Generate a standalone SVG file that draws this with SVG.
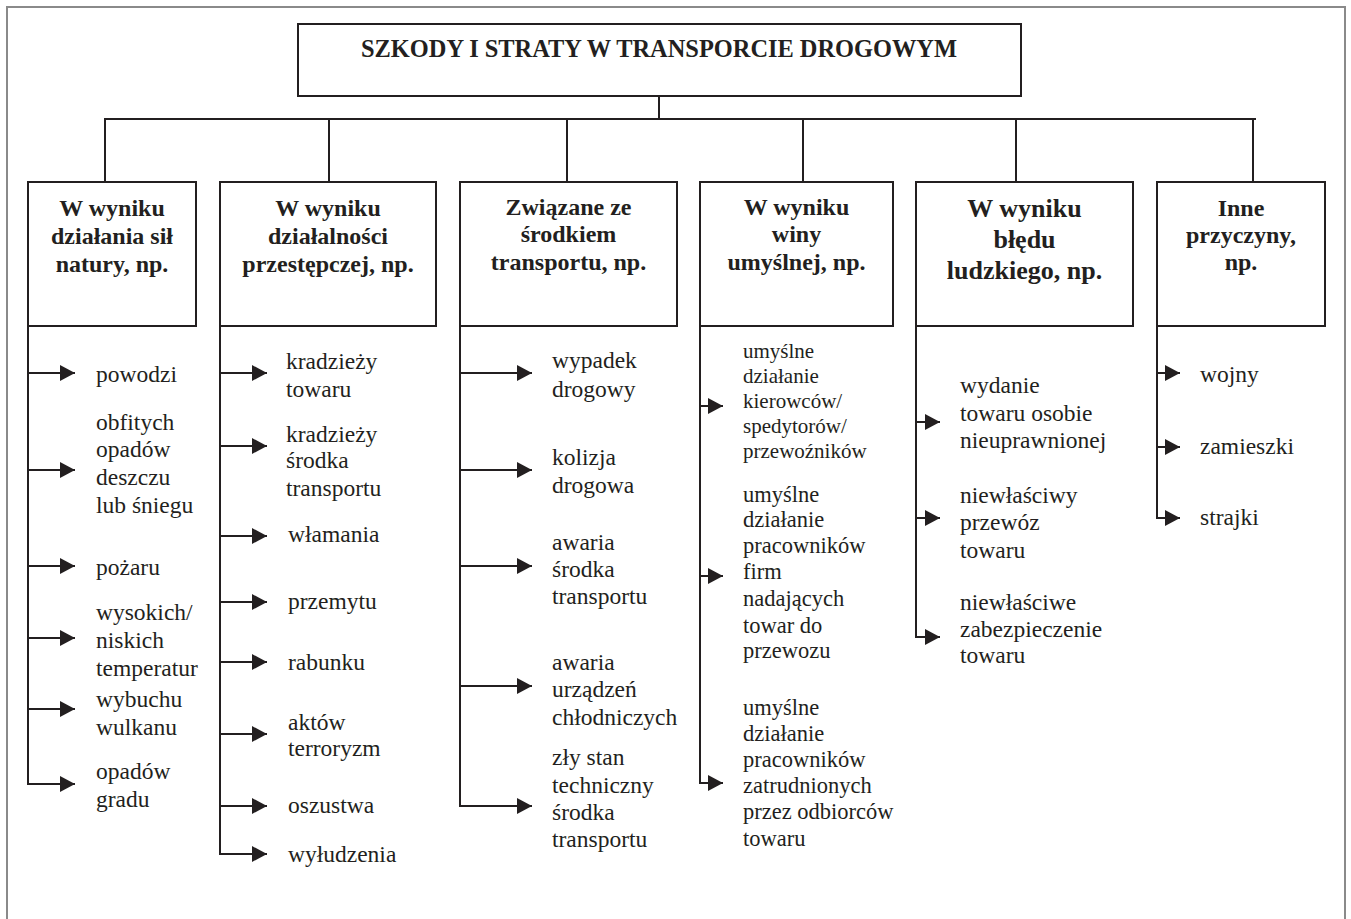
<svg xmlns="http://www.w3.org/2000/svg" width="1351" height="919" viewBox="0 0 1351 919">
<defs>
<style>
.frame{fill:none;stroke:#8a8a8a;stroke-width:2}
.box{fill:#fff;stroke:#231f20;stroke-width:2}
.ln{fill:none;stroke:#231f20;stroke-width:2}
.arr{fill:none;stroke:#231f20;stroke-width:2;marker-end:url(#ah)}
.title{font-family:"Liberation Serif","Times New Roman",serif;font-weight:bold;font-size:25px;fill:#231f20;text-anchor:middle}
.hd{font-family:"Liberation Serif","Times New Roman",serif;font-weight:bold;font-size:24px;fill:#231f20;text-anchor:middle}
.hd5{font-size:26px}
.it{font-family:"Liberation Serif","Times New Roman",serif;font-size:23.5px;fill:#231f20}
.sm{font-size:21px}
.md{font-size:22.5px}
</style>
<marker id="ah" viewBox="0 0 15 16" refX="15" refY="8" markerWidth="15" markerHeight="16" markerUnits="userSpaceOnUse" orient="auto">
<path d="M0,0 L15,8 L0,16 Z" fill="#231f20"/>
</marker>
</defs>
<rect width="1351" height="919" fill="#fff"/>
<rect class="frame" x="7" y="7" width="1338" height="920"/>

<g id="connectors">
<line class="ln" x1="659" y1="96" x2="659" y2="119"/>
<line class="ln" x1="104" y1="119" x2="1256" y2="119"/>
<line class="ln" x1="105" y1="119" x2="105" y2="182"/>
<line class="ln" x1="329" y1="119" x2="329" y2="182"/>
<line class="ln" x1="567" y1="119" x2="567" y2="182"/>
<line class="ln" x1="803" y1="119" x2="803" y2="182"/>
<line class="ln" x1="1016" y1="119" x2="1016" y2="182"/>
<line class="ln" x1="1253" y1="119" x2="1253" y2="182"/>
<!-- spines -->
<line class="ln" x1="28" y1="326" x2="28" y2="784"/>
<line class="ln" x1="220" y1="326" x2="220" y2="854"/>
<line class="ln" x1="460" y1="326" x2="460" y2="806"/>
<line class="ln" x1="700" y1="326" x2="700" y2="783"/>
<line class="ln" x1="916" y1="326" x2="916" y2="637"/>
<line class="ln" x1="1157" y1="326" x2="1157" y2="518"/>
<!-- col1 arrows -->
<line class="arr" x1="27" y1="373" x2="75" y2="373"/>
<line class="arr" x1="27" y1="470" x2="75" y2="470"/>
<line class="arr" x1="27" y1="566" x2="75" y2="566"/>
<line class="arr" x1="27" y1="638" x2="75" y2="638"/>
<line class="arr" x1="27" y1="709" x2="75" y2="709"/>
<line class="arr" x1="27" y1="784" x2="75" y2="784"/>
<!-- col2 arrows -->
<line class="arr" x1="219" y1="373" x2="267" y2="373"/>
<line class="arr" x1="219" y1="446" x2="267" y2="446"/>
<line class="arr" x1="219" y1="536" x2="267" y2="536"/>
<line class="arr" x1="219" y1="602" x2="267" y2="602"/>
<line class="arr" x1="219" y1="662" x2="267" y2="662"/>
<line class="arr" x1="219" y1="734" x2="267" y2="734"/>
<line class="arr" x1="219" y1="806" x2="267" y2="806"/>
<line class="arr" x1="219" y1="854" x2="267" y2="854"/>
<!-- col3 arrows -->
<line class="arr" x1="459" y1="373" x2="532" y2="373"/>
<line class="arr" x1="459" y1="470" x2="532" y2="470"/>
<line class="arr" x1="459" y1="566" x2="532" y2="566"/>
<line class="arr" x1="459" y1="686" x2="532" y2="686"/>
<line class="arr" x1="459" y1="806" x2="532" y2="806"/>
<!-- col4 arrows -->
<line class="arr" x1="699" y1="406" x2="723" y2="406"/>
<line class="arr" x1="699" y1="576" x2="723" y2="576"/>
<line class="arr" x1="699" y1="783" x2="723" y2="783"/>
<!-- col5 arrows -->
<line class="arr" x1="915" y1="422" x2="940" y2="422"/>
<line class="arr" x1="915" y1="518" x2="940" y2="518"/>
<line class="arr" x1="915" y1="637" x2="940" y2="637"/>
<!-- col6 arrows -->
<line class="arr" x1="1156" y1="373" x2="1180" y2="373"/>
<line class="arr" x1="1156" y1="447" x2="1180" y2="447"/>
<line class="arr" x1="1156" y1="518" x2="1180" y2="518"/>
</g>

<g id="title">
<rect class="box" x="298" y="24" width="723" height="72"/>
<text class="title" x="659" y="57" textLength="596" lengthAdjust="spacingAndGlyphs">SZKODY I STRATY W TRANSPORCIE DROGOWYM</text>
</g>

<g id="h1">
<rect class="box" x="28" y="182" width="168" height="144"/>
<text class="hd"><tspan x="112" y="216">W wyniku</tspan><tspan x="112" y="244">działania sił</tspan><tspan x="112" y="272">natury, np.</tspan></text>
</g>
<g id="h2">
<rect class="box" x="220" y="182" width="216" height="144"/>
<text class="hd"><tspan x="328" y="216">W wyniku</tspan><tspan x="328" y="244">działalności</tspan><tspan x="328" y="272">przestępczej, np.</tspan></text>
</g>
<g id="h3">
<rect class="box" x="460" y="182" width="217" height="144"/>
<text class="hd"><tspan x="568.5" y="215">Związane ze</tspan><tspan x="568.5" y="242">środkiem</tspan><tspan x="568.5" y="270">transportu, np.</tspan></text>
</g>
<g id="h4">
<rect class="box" x="700" y="182" width="193" height="144"/>
<text class="hd"><tspan x="796.5" y="215">W wyniku</tspan><tspan x="796.5" y="242">winy</tspan><tspan x="796.5" y="270">umyślnej, np.</tspan></text>
</g>
<g id="h5">
<rect class="box" x="916" y="182" width="217" height="144"/>
<text class="hd hd5"><tspan x="1024.5" y="217">W wyniku</tspan><tspan x="1024.5" y="248">błędu</tspan><tspan x="1024.5" y="279">ludzkiego, np.</tspan></text>
</g>
<g id="h6">
<rect class="box" x="1157" y="182" width="168" height="144"/>
<text class="hd"><tspan x="1241" y="216">Inne</tspan><tspan x="1241" y="243">przyczyny,</tspan><tspan x="1241" y="270">np.</tspan></text>
</g>

<g id="c1-items" class="it">
<text id="c1a" x="96" y="382">powodzi</text>
<text id="c1b"><tspan x="96" y="430">obfitych</tspan><tspan x="96" y="457">opadów</tspan><tspan x="96" y="485">deszczu</tspan><tspan x="96" y="513">lub śniegu</tspan></text>
<text id="c1c" x="96" y="575">pożaru</text>
<text id="c1d"><tspan x="96" y="620">wysokich/</tspan><tspan x="96" y="648">niskich</tspan><tspan x="96" y="676">temperatur</tspan></text>
<text id="c1e"><tspan x="96" y="707">wybuchu</tspan><tspan x="96" y="735">wulkanu</tspan></text>
<text id="c1f"><tspan x="96" y="779">opadów</tspan><tspan x="96" y="807">gradu</tspan></text>
</g>

<g id="c2-items" class="it">
<text id="c2a"><tspan x="286" y="369">kradzieży</tspan><tspan x="286" y="397">towaru</tspan></text>
<text id="c2b"><tspan x="286" y="442">kradzieży</tspan><tspan x="286" y="468">środka</tspan><tspan x="286" y="496">transportu</tspan></text>
<text id="c2c" x="288" y="542">włamania</text>
<text id="c2d" x="288" y="609">przemytu</text>
<text id="c2e" x="288" y="670">rabunku</text>
<text id="c2f"><tspan x="288" y="730">aktów</tspan><tspan x="288" y="756">terroryzm</tspan></text>
<text id="c2g" x="288" y="813">oszustwa</text>
<text id="c2h" x="288" y="862">wyłudzenia</text>
</g>

<g id="c3-items" class="it">
<text id="c3a"><tspan x="552" y="368">wypadek</tspan><tspan x="552" y="397">drogowy</tspan></text>
<text id="c3b"><tspan x="552" y="465">kolizja</tspan><tspan x="552" y="493">drogowa</tspan></text>
<text id="c3c"><tspan x="552" y="550">awaria</tspan><tspan x="552" y="577">środka</tspan><tspan x="552" y="604">transportu</tspan></text>
<text id="c3d"><tspan x="552" y="670">awaria</tspan><tspan x="552" y="697">urządzeń</tspan><tspan x="552" y="725">chłodniczych</tspan></text>
<text id="c3e"><tspan x="552" y="765">zły stan</tspan><tspan x="552" y="793">techniczny</tspan><tspan x="552" y="820">środka</tspan><tspan x="552" y="847">transportu</tspan></text>
</g>

<g id="c4-items" class="it">
<text id="c4a" class="sm"><tspan x="743" y="358">umyślne</tspan><tspan x="743" y="383">działanie</tspan><tspan x="743" y="408">kierowców/</tspan><tspan x="743" y="433">spedytorów/</tspan><tspan x="743" y="458">przewoźników</tspan></text>
<text id="c4b" class="md"><tspan x="743" y="502">umyślne</tspan><tspan x="743" y="527">działanie</tspan><tspan x="743" y="553">pracowników</tspan><tspan x="743" y="579">firm</tspan><tspan x="743" y="606">nadających</tspan><tspan x="743" y="633">towar do</tspan><tspan x="743" y="658">przewozu</tspan></text>
<text id="c4c" class="md"><tspan x="743" y="715">umyślne</tspan><tspan x="743" y="741">działanie</tspan><tspan x="743" y="767">pracowników</tspan><tspan x="743" y="793">zatrudnionych</tspan><tspan x="743" y="819">przez odbiorców</tspan><tspan x="743" y="846">towaru</tspan></text>
</g>

<g id="c5-items" class="it">
<text id="c5a"><tspan x="960" y="393">wydanie</tspan><tspan x="960" y="421">towaru osobie</tspan><tspan x="960" y="448">nieuprawnionej</tspan></text>
<text id="c5b"><tspan x="960" y="503">niewłaściwy</tspan><tspan x="960" y="530">przewóz</tspan><tspan x="960" y="558">towaru</tspan></text>
<text id="c5c"><tspan x="960" y="610">niewłaściwe</tspan><tspan x="960" y="637">zabezpieczenie</tspan><tspan x="960" y="663">towaru</tspan></text>
</g>

<g id="c6-items" class="it">
<text id="c6a" x="1200" y="382">wojny</text>
<text id="c6b" x="1200" y="454">zamieszki</text>
<text id="c6c" x="1200" y="525">strajki</text>
</g>
</svg>
